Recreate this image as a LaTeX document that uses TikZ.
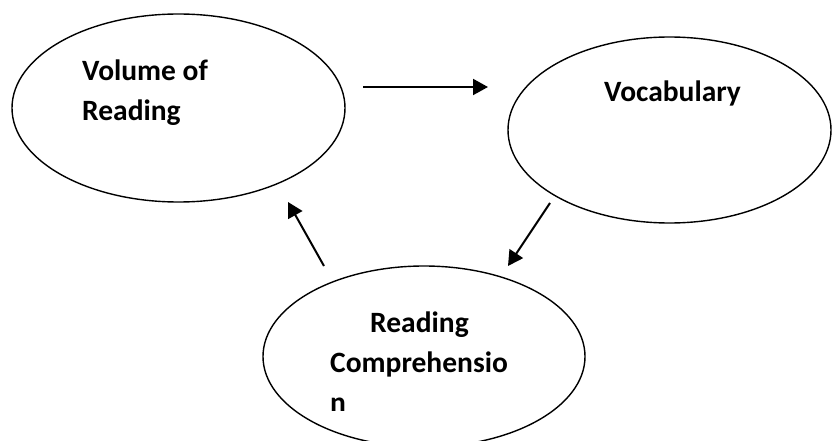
\documentclass[tikz,border=0pt]{standalone}
\usepackage{fontspec}
\setmainfont{Carlito}
\usetikzlibrary{shapes.geometric,arrows.meta}
\begin{document}
\begin{tikzpicture}[x=1pt,y=-1pt,
  bubble/.style={draw=black,line width=1.4pt,ellipse,inner sep=0pt,outer sep=0pt},
  lbl/.style={anchor=base west,inner sep=0pt,font=\fontsize{29.5}{40}\selectfont\bfseries},
  conn/.style={line width=2pt,-{Triangle[length=15pt,width=16pt]}}]
\useasboundingbox (0,0) rectangle (832,441);
\clip (0,0) rectangle (832,441);
\node[bubble,minimum width=333pt,minimum height=188pt] (vol) at (178.5,108) {};
\node[bubble,minimum width=323pt,minimum height=186pt] (voc) at (669.5,130) {};
\node[bubble,minimum width=322pt,minimum height=181pt] (rc) at (424,356.5) {};
\node[lbl] (t1) at (82,81) {Volume of};
\node[lbl] (t2) at (82,121) {Reading};
\node[lbl] (t3) at (604,102) {Vocabulary};
\node[lbl] (t4) at (370,332) {Reading};
\node[lbl] (t5) at (330,372) {Comprehensio};
\begin{scope}
\clip (0,0) rectangle (832,410);
\node[lbl] (t6) at (330,412) {n};
\end{scope}
\coordinate (a1s) at (363,87);
\coordinate (a1e) at (488,87);
\coordinate (a2s) at (550,203);
\coordinate (a2e) at (508,266);
\coordinate (a3s) at (324,266);
\coordinate (a3e) at (288,202);
\draw[conn] (a1s) -- (a1e);
\draw[conn] (a2s) -- (a2e);
\draw[conn] (a3s) -- (a3e);
\end{tikzpicture}
\end{document}
